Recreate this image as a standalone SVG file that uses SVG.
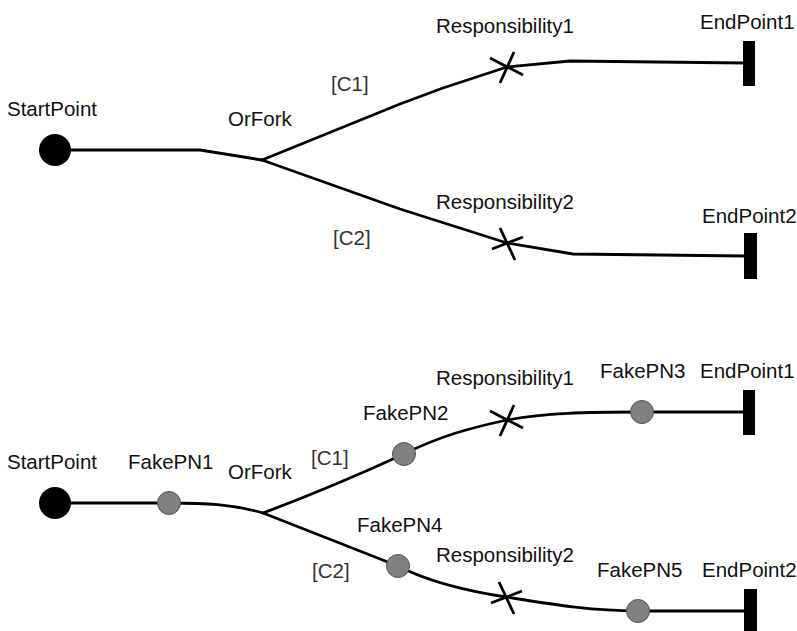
<svg xmlns="http://www.w3.org/2000/svg" width="797" height="631" viewBox="0 0 797 631">
  <style>
    .lbl { font-family: "Liberation Sans", Arial, sans-serif; font-size: 20.5px; fill: #111; }
    .cond { font-family: "Liberation Sans", Arial, sans-serif; font-size: 20.5px; fill: #333; }
    .path { fill: none; stroke: #000; stroke-width: 2.8; stroke-linejoin: round; stroke-linecap: round; }
    .start { fill: #000; }
    .stub { fill: #808080; stroke: #555; stroke-width: 1; }
    .end { fill: #000; }
    .resp { fill: none; stroke: #000; stroke-width: 2.8; }
  </style>
  <defs>
    <!-- responsibility cross, rising and falling variants -->
    <path id="crossUp" d="M-17,-9 L16,8 M7,-15 L-7,16"/>
    <path id="crossDown" d="M-15,6 L16,-6 M-7,-15 L8,17"/>
  </defs>
  <rect width="797" height="631" fill="#fff"/>

  <!-- ===== first map: plain fork ===== -->
  <g id="connectors-top">
    <path class="path" d="M55,150 L200,150 L262,160"/>
    <path class="path" d="M262,160 L400,104 L443,88 L507,67 L570,61 L745,63"/>
    <path class="path" d="M262,160 L400,209 L507,243 L573,254 L745,256"/>
  </g>
  <g id="StartPoint-top">
    <circle class="start" cx="55" cy="150" r="16"/>
    <text class="lbl" x="7" y="116">StartPoint</text>
  </g>
  <g id="OrFork-top">
    <text class="lbl" x="228" y="126">OrFork</text>
  </g>
  <g id="C1-top"><text class="cond" x="331" y="91">[C1]</text></g>
  <g id="C2-top"><text class="cond" x="333" y="245">[C2]</text></g>
  <g id="Responsibility1-top">
    <use href="#crossUp" class="resp" x="507" y="67"/>
    <text class="lbl" x="436" y="33">Responsibility1</text>
  </g>
  <g id="Responsibility2-top">
    <use href="#crossDown" class="resp" x="507" y="243"/>
    <text class="lbl" x="436" y="209">Responsibility2</text>
  </g>
  <g id="EndPoint1-top">
    <rect class="end" x="743" y="41" width="12" height="45"/>
    <text class="lbl" x="700" y="29">EndPoint1</text>
  </g>
  <g id="EndPoint2-top">
    <rect class="end" x="744" y="233" width="13" height="46"/>
    <text class="lbl" x="702" y="223">EndPoint2</text>
  </g>

  <!-- ===== second map: fork with stub points ===== -->
  <g id="connectors-bottom">
    <path class="path" d="M55,503 L169,503 C205,503 232,504 263,513"/>
    <path class="path" d="M263,513 Q330,488 404,454 C440,436 470,428 507,420 C545,413 585,412 642,412 L745,412"/>
    <path class="path" d="M263,513 L398,566 C425,580 460,590 506,597 C550,604 590,611 638,611 L745,611"/>
  </g>
  <g id="StartPoint-bottom">
    <circle class="start" cx="55" cy="503" r="16"/>
    <text class="lbl" x="7" y="469">StartPoint</text>
  </g>
  <g id="FakePN1">
    <circle class="stub" cx="169" cy="503" r="11.5"/>
    <text class="lbl" x="128" y="469">FakePN1</text>
  </g>
  <g id="OrFork-bottom">
    <text class="lbl" x="228" y="479">OrFork</text>
  </g>
  <g id="C1-bottom"><text class="cond" x="311" y="465">[C1]</text></g>
  <g id="C2-bottom"><text class="cond" x="312" y="578">[C2]</text></g>
  <g id="FakePN2">
    <circle class="stub" cx="404" cy="454" r="11.5"/>
    <text class="lbl" x="363" y="420">FakePN2</text>
  </g>
  <g id="FakePN4">
    <circle class="stub" cx="398" cy="566" r="11.5"/>
    <text class="lbl" x="357" y="532">FakePN4</text>
  </g>
  <g id="Responsibility1-bottom">
    <use href="#crossUp" class="resp" x="507" y="420"/>
    <text class="lbl" x="436" y="385">Responsibility1</text>
  </g>
  <g id="Responsibility2-bottom">
    <use href="#crossDown" class="resp" x="506" y="597"/>
    <text class="lbl" x="436" y="562">Responsibility2</text>
  </g>
  <g id="FakePN3">
    <circle class="stub" cx="642" cy="412" r="11.5"/>
    <text class="lbl" x="600" y="378">FakePN3</text>
  </g>
  <g id="FakePN5">
    <circle class="stub" cx="638" cy="611" r="11.5"/>
    <text class="lbl" x="597" y="577">FakePN5</text>
  </g>
  <g id="EndPoint1-bottom">
    <rect class="end" x="743" y="390" width="12" height="45"/>
    <text class="lbl" x="700" y="378">EndPoint1</text>
  </g>
  <g id="EndPoint2-bottom">
    <rect class="end" x="744" y="589" width="13" height="46"/>
    <text class="lbl" x="702" y="577">EndPoint2</text>
  </g>
</svg>
